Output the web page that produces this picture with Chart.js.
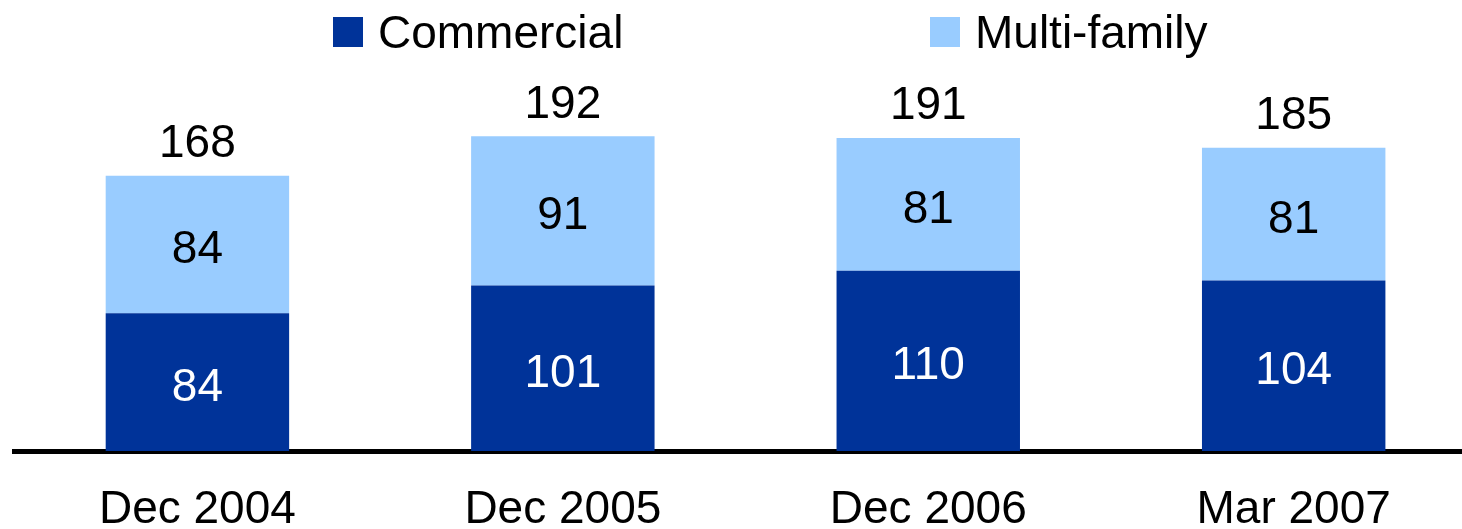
<!DOCTYPE html>
<html>
<head>
<meta charset="utf-8">
<script src="https://cdn.jsdelivr.net/npm/chart.js@4/dist/chart.umd.min.js"></script>
<style>
  html, body { margin: 0; padding: 0; background: #fff; overflow: hidden; }
  #wrap { position: relative; width: 1480px; height: 529px; }
  canvas { display: block; }
  .legend { position: absolute; left: 0; top: 0; font-family: "Liberation Sans", Arial, sans-serif; font-size: 46px; color: #000; }
  .item { position: absolute; top: 17px; height: 30px; display: flex; align-items: center; white-space: nowrap; }
  .swatch { width: 30px; height: 30px; margin-right: 15px; flex: none; }
</style>
</head>
<body>
<div id="wrap">
  <canvas id="chart" width="1480" height="529"></canvas>
  <div class="legend">
    <div class="item" style="left:333px"><span class="swatch" style="background:#003399"></span>Commercial</div>
    <div class="item" style="left:930px"><span class="swatch" style="background:#99CCFF"></span>Multi-family</div>
  </div>
</div>
<script>
const categories = ['Dec 2004', 'Dec 2005', 'Dec 2006', 'Mar 2007'];
const commercial = [84, 101, 110, 104];
const multiFamily = [84, 91, 81, 81];
const totals = [168, 192, 191, 185];

const FONT = '"Liberation Sans", Arial, sans-serif';
const labelColors = ['#ffffff', '#000000'];

// Segment values inside each bar, totals above each stack
const valueLabels = {
  id: 'valueLabels',
  afterDatasetsDraw(chart) {
    const ctx = chart.ctx;
    ctx.save();
    ctx.font = '46px ' + FONT;
    ctx.textAlign = 'center';
    ctx.textBaseline = 'alphabetic';
    chart.data.datasets.forEach((ds, di) => {
      const meta = chart.getDatasetMeta(di);
      meta.data.forEach((bar, i) => {
        const { x, y, base } = bar.getProps(['x', 'y', 'base'], true);
        ctx.fillStyle = labelColors[di];
        ctx.fillText(String(ds.data[i]), x, (y + base) / 2 + 2 + 16.5);
      });
    });
    const topMeta = chart.getDatasetMeta(chart.data.datasets.length - 1);
    ctx.fillStyle = '#000';
    topMeta.data.forEach((bar, i) => {
      ctx.fillText(String(totals[i]), bar.x, bar.y - 18.5);
    });
    ctx.restore();
  }
};

new Chart(document.getElementById('chart'), {
  type: 'bar',
  data: {
    labels: categories,
    datasets: [
      { label: 'Commercial', data: commercial, backgroundColor: '#003399', borderWidth: 0 },
      { label: 'Multi-family', data: multiFamily, backgroundColor: '#99CCFF', borderWidth: 0 }
    ]
  },
  options: {
    responsive: false,
    animation: false,
    devicePixelRatio: 1,
    layout: { padding: { top: 41.25, left: 14.7, right: 3.6, bottom: 0 } },
    plugins: { legend: { display: false }, tooltip: { enabled: false } },
    datasets: { bar: { categoryPercentage: 1, barPercentage: 0.502 } },
    scales: {
      x: {
        stacked: true,
        z: 1,
        grid: { display: false, drawTicks: false },
        border: { display: true, color: '#000', width: 5 },
        ticks: { color: '#000', padding: 36, font: { family: FONT, size: 46, lineHeight: 1 } },
        afterFit(scale) { scale.height = 78; }
      },
      y: {
        stacked: true,
        display: false,
        min: 0,
        max: 250
      }
    }
  },
  plugins: [valueLabels]
});
</script>
</body>
</html>
